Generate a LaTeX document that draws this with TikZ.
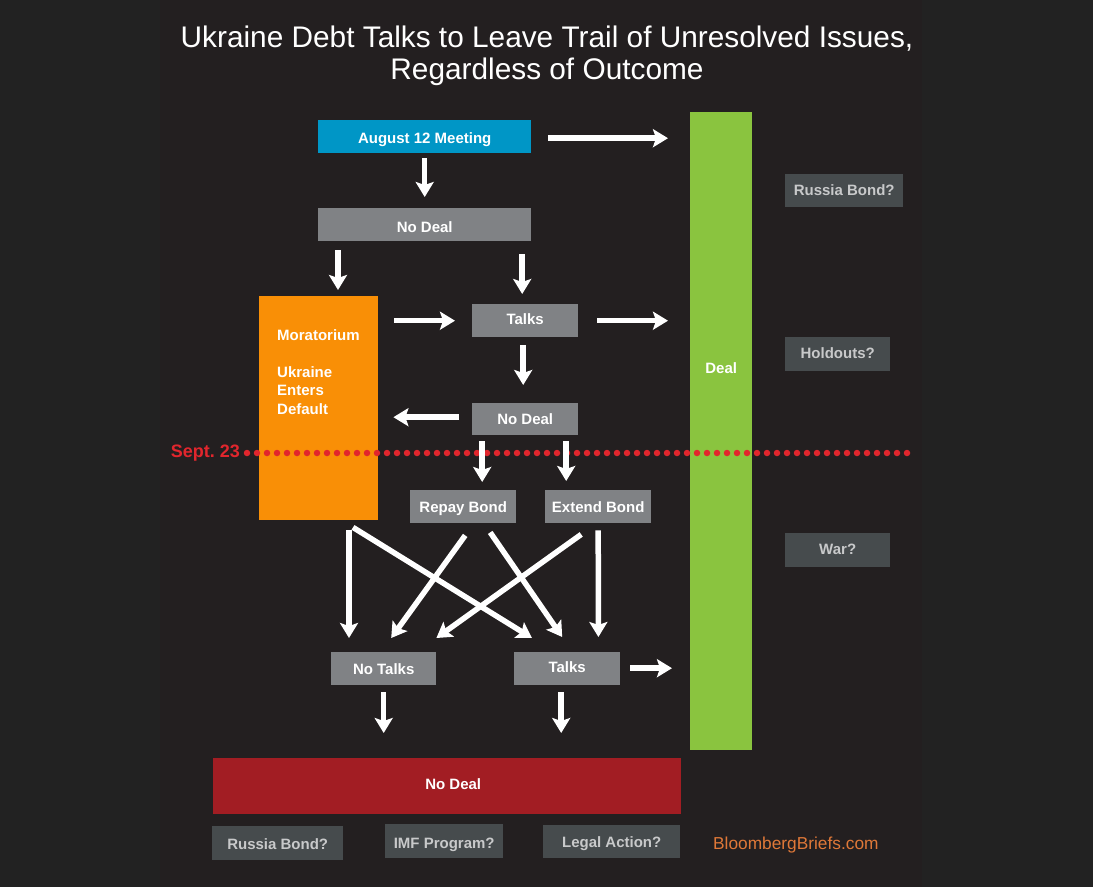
\documentclass[tikz,border=0pt]{standalone}
\usepackage{fontspec}
\setmainfont{Liberation Sans}
\usetikzlibrary{arrows.meta,calc}
\frenchspacing
\definecolor{bgmid}{HTML}{231F20}
\definecolor{bgside}{HTML}{222222}
\definecolor{cblue}{HTML}{0096C6}
\definecolor{cgray}{HTML}{808285}
\definecolor{cdark}{HTML}{464B4D}
\definecolor{cdarktxt}{HTML}{C8C9CA}
\definecolor{corange}{HTML}{F98F06}
\definecolor{cgreen}{HTML}{8AC43F}
\definecolor{cred}{HTML}{A21D23}
\definecolor{cdot}{HTML}{E1262D}
\definecolor{cbb}{HTML}{DF7838}
\tikzset{
  box/.style={rectangle, inner sep=0pt, anchor=north west, text=white,
    text height=11.6pt, text depth=0.6pt,
    font=\fontsize{15}{18}\selectfont\bfseries},
  graybox/.style={box, fill=cgray},
  darkbox/.style={box, fill=cdark, text=cdarktxt},
  arr/.style={draw=white, line width=5.5pt,
    -{Stealth[width=18pt,length=15pt,inset=3pt]}},
  dots/.style={draw=cdot, line width=6.5pt, line cap=round,
    dash pattern=on 0pt off 10pt},
}
\begin{document}
\begin{tikzpicture}[x=1pt,y=-1pt]
\useasboundingbox (0,0) rectangle (1093,887);
\fill[bgside] (0,0) rectangle (1093,887);
\fill[bgmid] (160,0) rectangle (922,887);

% title
\node[text=white, font=\fontsize{29.8}{32}\selectfont, align=center]
  (title) at (547,55.5) {Ukraine Debt Talks to Leave Trail of Unresolved Issues,\\Regardless of Outcome};

% nodes
\node[box, fill=cblue, minimum width=213pt, minimum height=33pt, text height=14.6pt] (aug) at (318,120) {August 12 Meeting};
\node[box, fill=cgreen, minimum width=62pt, minimum height=638pt] (deal) at (690,112) {};
\node[text=white, font=\fontsize{15}{18}\selectfont\bfseries] (deallab) at ($(deal.north)+(0,256)$) {Deal};
\node[darkbox, minimum width=118pt, minimum height=33pt, text height=9.6pt] (rb1) at (785,174) {Russia Bond?};
\node[darkbox, minimum width=105pt, minimum height=34pt, text height=9.6pt] (hold) at (785,337) {Holdouts?};
\node[darkbox, minimum width=105pt, minimum height=34pt, text height=9.6pt] (war) at (785,533) {War?};
\node[graybox, minimum width=213pt, minimum height=33pt, text height=16.6pt] (nd1) at (318,208) {No Deal};
\node[box, fill=corange, minimum width=119pt, minimum height=224pt] (mor) at (259,296) {};
\node[text=white, anchor=north west, inner sep=0pt, align=left,
  font=\fontsize{15}{18.5}\selectfont\bfseries] (morlab) at ($(mor.north west)+(18,33)$)
  {Moratorium\\[18.5pt]Ukraine\\Enters\\Default};
\node[graybox, minimum width=106pt, minimum height=33pt, text height=8.6pt] (talks1) at (472,304) {Talks};
\node[graybox, minimum width=106pt, minimum height=32pt] (nd2) at (472,403) {No Deal};
\node[graybox, minimum width=106pt, minimum height=33pt] (repay) at (410,490) {Repay Bond};
\node[graybox, minimum width=106pt, minimum height=33pt] (extend) at (545,490) {Extend Bond};
\node[graybox, minimum width=105pt, minimum height=33pt] (notalks) at (331,652) {No Talks};
\node[graybox, minimum width=106pt, minimum height=33pt, text depth=4.6pt] (talks2) at (514,652) {Talks};
\node[box, fill=cred, minimum width=468pt, minimum height=56pt, text height=7.6pt] (red) at (213,758) {\hspace*{12pt}No Deal};
\node[darkbox, minimum width=131pt, minimum height=34pt, text height=12.6pt] (rb2) at (212,826) {Russia Bond?};
\node[darkbox, minimum width=118pt, minimum height=34pt, text height=14.6pt] (imf) at (385,824) {IMF Program?};
\node[darkbox, minimum width=137pt, minimum height=33pt] (legal) at (543,825) {Legal Action?};
\node[text=cbb, font=\fontsize{17.3}{20}\selectfont, anchor=west, inner sep=0pt] (bb) at (713,845) {BloombergBriefs.com};

% Sept. 23 line
\node[text=cdot, font=\fontsize{18}{20}\selectfont\bfseries, anchor=east, inner sep=0pt] (sept) at (240,453) {Sept. 23};
\coordinate (dotend) at (912,453);
\draw[dots] ($(sept.east)+(7,0)$) -- (dotend);

% arrows
\draw[arr, shorten <=17pt, shorten >=22pt] ($(aug.east)+(0,1.5)$) -- ($(aug.east -| deal.west)+(0,1.5)$);
\draw[arr, shorten <=5pt, shorten >=11pt] (aug.south) -- (nd1.north);
\draw[arr, shorten <=9pt, shorten >=6pt] ($(nd1.south west)+(20,0)$) -- ($(mor.north west)+(79,0)$);
\draw[arr, shorten <=13pt, shorten >=10pt] ($(nd1.south -| talks1.north)+(-3,0)$) -- ($(talks1.north)+(-3,0)$);
\draw[arr, shorten <=16pt, shorten >=17pt] (talks1.west -| mor.east) -- (talks1.west);
\draw[arr, shorten <=19pt, shorten >=22pt] (talks1.east) -- (talks1.east -| deal.west);
\draw[arr, shorten <=8pt, shorten >=18pt] ($(talks1.south)+(-2,0)$) -- ($(nd2.north)+(-2,0)$);
\draw[arr, shorten <=13pt, shorten >=15pt] ($(nd2.west)+(0,-2)$) -- ($(nd2.west -| mor.east)+(0,-2)$);
\draw[arr, shorten <=6pt, shorten >=8pt] ($(nd2.south)+(-43,0)$) -- ($(repay.north)+(19,0)$);
\draw[arr, shorten <=6pt, shorten >=9pt] ($(nd2.south)+(41,0)$) -- ($(extend.north)+(-32,0)$);
% crossing arrows
\draw[arr] ($(mor.south west)+(90,10)$) -- ($(notalks.north west)+(18,-14)$);
\draw[arr] ($(mor.south west)+(94,7)$) -- ($(talks2.north west)+(18,-14)$);
\draw[arr] ($(repay.south)+(2,12)$) -- ($(notalks.north)+(7.5,-14)$);
\draw[arr] ($(repay.south)+(27,9)$) -- ($(talks2.north)+(-5,-15)$);
\draw[arr] ($(extend.south)+(-17,11)$) -- ($(notalks.north east)+(0,-14)$);
\draw[arr] ($(extend.south)+(0,7)$) -- ($(talks2.north east)+(-22,-15)$);
% bottom
\draw[arr, shorten <=10pt, shorten >=18pt] ($(talks2.east)+(0,-0.5)$) -- ($(talks2.east -| deal.west)+(0,-0.5)$);
\draw[arr, shorten <=7pt, shorten >=25pt] (notalks.south) -- (notalks.south |- red.north);
\draw[arr, shorten <=7pt, shorten >=25pt] ($(talks2.south)+(-6,0)$) -- ($(talks2.south |- red.north)+(-6,0)$);
\end{tikzpicture}
\end{document}
